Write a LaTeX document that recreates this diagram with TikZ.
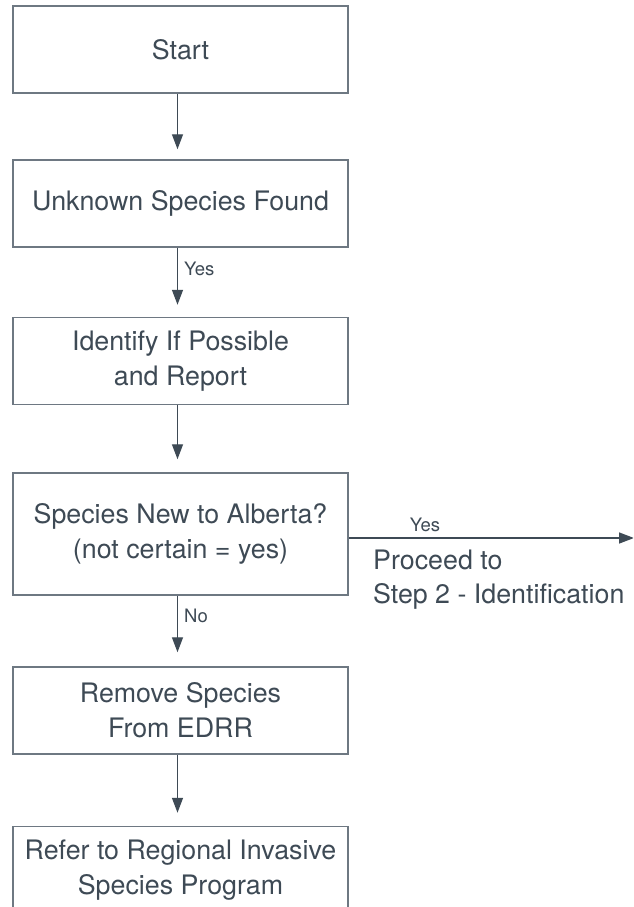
\documentclass[tikz,border=0pt]{standalone}
\usepackage{fontspec}
\setmainfont{TeX Gyre Heros}
\usetikzlibrary{arrows.meta,positioning}
\definecolor{ink}{HTML}{3E4A55}
\definecolor{frame}{HTML}{6E7882}
\tikzset{
  stepbox/.style={draw=frame, line width=1.5pt, minimum width=335pt, minimum height=87pt,
    align=center, text=ink, font=\fontsize{26.8}{35}\selectfont, inner sep=0pt},
  flow/.style={draw=ink, line width=1.4pt, -{Triangle[length=15pt,width=11pt]}},
  lbl/.style={text=ink, font=\fontsize{18.5}{22}\selectfont, inner sep=0pt},
  note/.style={text=ink, font=\fontsize{26.8}{34}\selectfont, inner sep=0pt, align=left},
}
\begin{document}
\begin{tikzpicture}[x=1pt,y=-1pt]
\useasboundingbox (0,0) rectangle (633,907);
\fill[white] (0,0) rectangle (633,907);
\clip (0,0) rectangle (633,907);

\node[stepbox] (start)    at (180.5,49.5)  {Start};
\node[stepbox] (unknown)  at (180.5,203.5) {Unknown Species Found};
\node[stepbox] (identify) at (180.5,361)   {Identify If Possible\\and Report};
\node[stepbox, minimum height=122pt] (newab) at (180.5,534) {Species New to Alberta?\\(not certain = yes)};
\node[stepbox] (remove)   at (180.5,710.5) {Remove Species\\From EDRR};
\node[stepbox] (refer)    at (180.5,870)   {Refer to Regional Invasive\\Species Program};

\coordinate (exit) at (634,538);

\draw[flow, shorten >=10pt] ([xshift=-3pt]start.south) -- ([xshift=-3pt]start.south |- unknown.north);
\draw[flow, shorten >=12pt] ([xshift=-3pt]unknown.south) -- ([xshift=-3pt]unknown.south |- identify.north)
  node[lbl, pos=0.3, anchor=west, xshift=6pt] {Yes};
\draw[flow, shorten >=13pt] ([xshift=-3pt]identify.south) -- ([xshift=-3pt]identify.south |- newab.north);
\draw[flow, shorten >=14pt] ([xshift=-3pt]newab.south) -- ([xshift=-3pt]newab.south |- remove.north)
  node[lbl, pos=0.28, anchor=west, xshift=6pt] {No};
\draw[flow, shorten >=13pt] ([xshift=-3pt]remove.south) -- ([xshift=-3pt]remove.south |- refer.north);

\draw[flow] (newab.east |- exit) -- (exit);
\node[lbl] (yesr) at (425,525) {Yes};
\node[note, anchor=west] (proceed) at (373,580) {Proceed to\\Step 2 - Identification};
\end{tikzpicture}
\end{document}
